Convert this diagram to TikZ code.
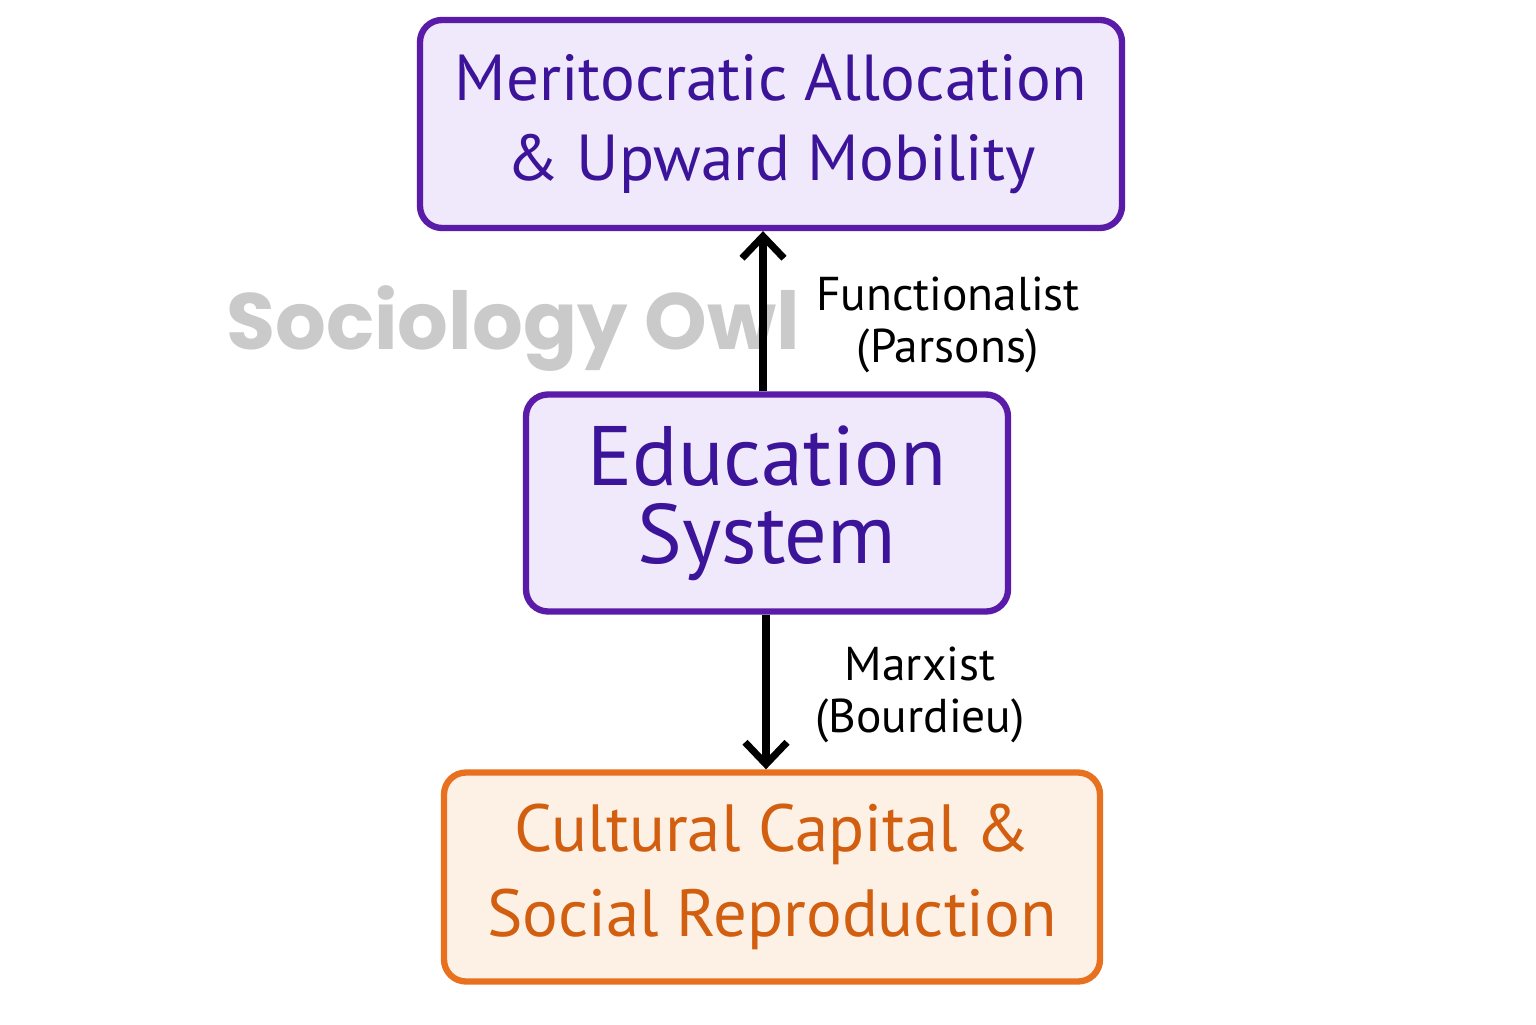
\documentclass[tikz,border=0pt]{standalone}
\usepackage{fontspec}
\setmainfont{PT Sans}
\newfontfamily\owlfont{Poppins}
\usetikzlibrary{arrows.meta}
\definecolor{purpleline}{HTML}{5A1CA8}
\definecolor{purpletext}{HTML}{3C1499}
\definecolor{purplefill}{HTML}{F0E8FB}
\definecolor{orangeline}{HTML}{E8711F}
\definecolor{orangetext}{HTML}{D25E10}
\definecolor{orangefill}{HTML}{FDF1E6}
\definecolor{owlgrey}{HTML}{CACACA}
\tikzset{
	box/.style={draw, line width=1.8pt, rounded corners=0.22cm, align=center, inner sep=0pt},
	purplebox/.style={box, draw=purpleline, fill=purplefill, text=purpletext},
	orangebox/.style={box, draw=orangeline, fill=orangefill, text=orangetext},
	link/.style={line width=2pt, -{Straight Barb[length=0.22cm, width=0.42cm, line width=2pt]}},
	linklabel/.style={align=center, font=\fontsize{13.5}{15}\selectfont}
}
\begin{document}
\begin{tikzpicture}
			%%%%% START %%%%%
			
			\useasboundingbox[fill=white] (0, 0) rectangle (15.36, 10.24);
			
			\node[owlgrey, font=\owlfont\bfseries\fontsize{22.7}{27}\selectfont] (owl) at (5.13, 6.95) {Sociology Owl};
			
			\node[purplebox, minimum width=7.02cm, minimum height=2.08cm,
				font=\fontsize{18.5}{22.8}\selectfont] (merit) at (7.71, 9.00)
				{Meritocratic Allocation\\\& Upward Mobility};
			\node[purplebox, minimum width=4.82cm, minimum height=2.17cm,
				font=\fontsize{24}{22.2}\selectfont] (edu) at (7.67, 5.21)
				{Education\\System};
			\node[orangebox, minimum width=6.56cm, minimum height=2.09cm,
				font=\fontsize{19}{24}\selectfont] (capital) at (7.72, 1.47)
				{Cultural Capital \&\\Social Reproduction};
			
			\draw[link] (edu.north -| 7.63, 0) -- (merit.south -| 7.63, 0);
			\draw[link] (edu.south -| 7.66, 0) -- (capital.north -| 7.66, 0);
			
			\node[linklabel] (func) at (9.48, 6.99) {Functionalist\\(Parsons)};
			\node[linklabel] (marx) at (9.20, 3.29) {Marxist\\(Bourdieu)};
			
			%%%%% END %%%%%
		\end{tikzpicture}
\end{document}
